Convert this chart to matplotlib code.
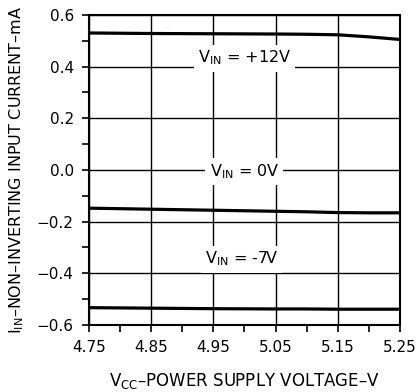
import numpy as np
import matplotlib
matplotlib.use("Agg")
import matplotlib.pyplot as plt
from matplotlib.ticker import MultipleLocator

plt.rcParams['font.family'] = ['DejaVu Sans']

# supply voltage (V) and input current (mA)
vcc = [4.75, 4.85, 4.95, 5.05, 5.10, 5.15, 5.20, 5.25]
i_p12 = [0.530, 0.528, 0.527, 0.526, 0.525, 0.523, 0.515, 0.505]
i_0 = [-0.148, -0.152, -0.156, -0.160, -0.162, -0.165, -0.166, -0.166]
i_m7 = [-0.533, -0.535, -0.537, -0.538, -0.538, -0.539, -0.539, -0.539]

curve_labels = ["V$_{\\mathregular{IN}}$ = +12V", "V$_{\\mathregular{IN}}$ = 0V", "V$_{\\mathregular{IN}}$ = -7V"]
label_pos = [(5.0, 0.433), (5.0, -0.005), (4.995, -0.345)]

fig = plt.figure(figsize=(4.2, 3.92), dpi=100)
ax = fig.add_axes([0.212, 0.171, 0.74, 0.791])

ax.grid(True, which='major', color='black', lw=1.0)
for ys in (i_p12, i_0, i_m7):
    ax.plot(vcc, ys, color='black', lw=2.3, solid_capstyle='butt', zorder=3)

for txt, (x, y) in zip(curve_labels, label_pos):
    ax.text(x, y, txt, ha='center', va='center', fontsize=11.5, zorder=4,
            bbox=dict(facecolor='white', edgecolor='none', pad=3))

ax.set_xlim(4.75, 5.25)
ax.set_ylim(-0.6, 0.6)
ax.set_xticks([4.75, 4.85, 4.95, 5.05, 5.15, 5.25])
ax.set_yticks([-0.6, -0.4, -0.2, 0.0, 0.2, 0.4, 0.6])
ax.set_yticklabels(["\u22120.6", "\u22120.4", "\u22120.2", "0.0", "0.2", "0.4", "0.6"])
ax.xaxis.set_minor_locator(MultipleLocator(0.05))
ax.yaxis.set_minor_locator(MultipleLocator(0.1))
ax.tick_params(which='both', direction='out', length=5, width=1.2, colors='black')
ax.tick_params(axis='y', which='major', labelsize=11, pad=6)
ax.tick_params(axis='x', which='major', labelsize=11, pad=6)
for s in ax.spines.values():
    s.set_linewidth(1.5)

ax.set_xlabel("V$_{\\mathregular{CC}}$\u2013POWER SUPPLY VOLTAGE\u2013V", fontsize=12, labelpad=11)
ax.set_ylabel("I$_{\\mathregular{IN}}$\u2013NON\u2013INVERTING INPUT CURRENT\u2013mA", fontsize=11.5, labelpad=8)

fig.savefig("out.png", dpi=100)
